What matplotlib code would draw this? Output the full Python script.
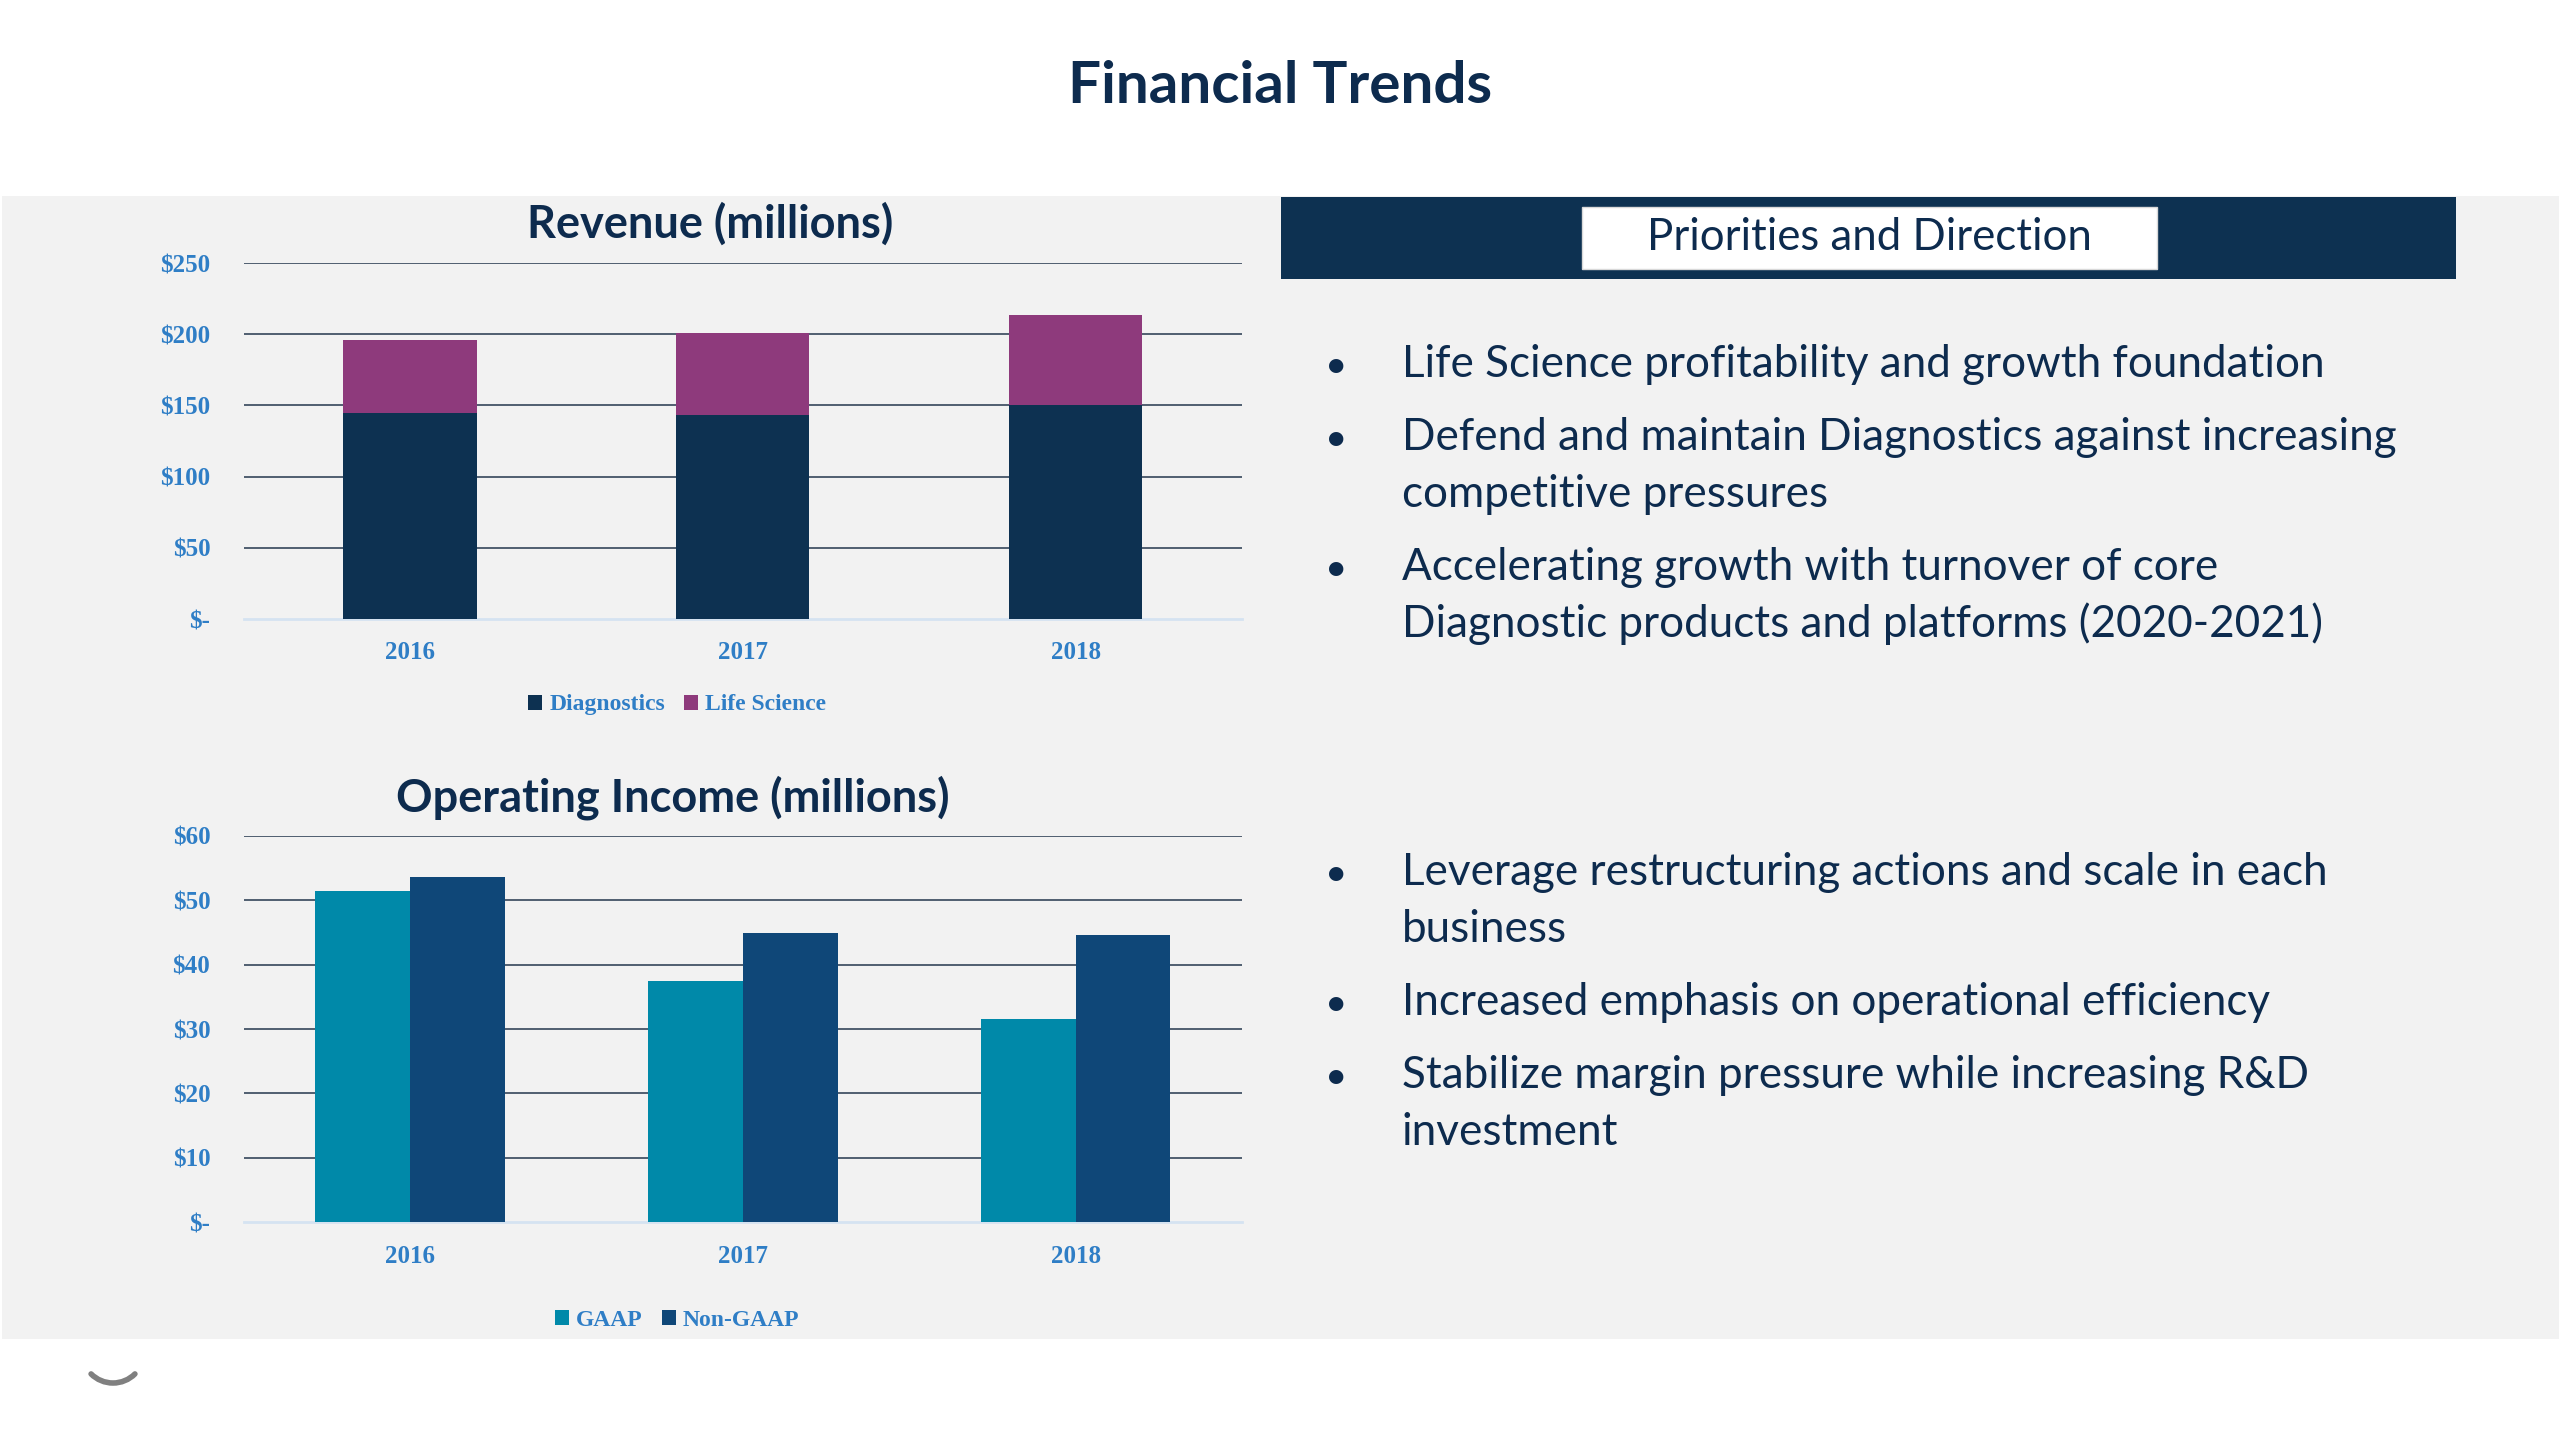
import matplotlib
matplotlib.use('Agg')
import matplotlib.pyplot as plt
from matplotlib.patches import Rectangle, Arc
from matplotlib.ticker import FuncFormatter, MultipleLocator
import numpy as np

# ---------------- data ----------------
years = ['2016', '2017', '2018']
diagnostics = [145.0, 143.5, 150.5]
life_science = [51.0, 57.5, 63.0]
gaap = [51.4, 37.4, 31.6]
non_gaap = [53.6, 44.9, 44.6]

rev_series = ['Diagnostics', 'Life Science']
op_series = ['GAAP', 'Non-GAAP']

main_title = 'Financial Trends'
rev_title = 'Revenue (millions)'
op_title = 'Operating Income (millions)'
panel_header = 'Priorities and Direction'
bullets_top = [
    ['Life Science profitability and growth foundation'],
    ['Defend and maintain Diagnostics against increasing', 'competitive pressures'],
    ['Accelerating growth with turnover of core', 'Diagnostic products and platforms (2020-2021)'],
]
bullets_bottom = [
    ['Leverage restructuring actions and scale in each', 'business'],
    ['Increased emphasis on operational efficiency'],
    ['Stabilize margin pressure while increasing R&D', 'investment'],
]

# ---------------- style ----------------
NAVY = '#0D3151'
PURPLE = '#8E3A7C'
TEAL = '#0089A9'
BLUE2 = '#0F4778'
TICK = '#2F7EC6'
GRID = '#435366'
BASE = '#D5E3F1'
BG = '#F2F2F2'
TEXT = '#0D2B4E'
FONT_TXT = ['Lato', 'DejaVu Sans']
FONT_NUM = ['Liberation Serif', 'DejaVu Serif']

W, H = 2559, 1440
fig = plt.figure(figsize=(W / 100, H / 100), dpi=100)
fig.patch.set_facecolor('white')

bg = fig.add_axes([0, 0, 1, 1], zorder=0)
bg.set_xlim(0, W)
bg.set_ylim(H, 0)
bg.axis('off')

bg.add_patch(Rectangle((2, 196), W - 2, 1143, color=BG, lw=0))
bg.add_patch(Rectangle((1281, 197), 1175, 82, color=NAVY, lw=0))
bg.add_patch(Rectangle((1582, 207), 575, 62, facecolor='white', edgecolor='#D9D9D9', lw=1))
bg.add_patch(Arc((113, 1352), 62, 62, theta1=45, theta2=135, color='#808080', lw=4, capstyle='round'))

bg.text(1280, 103, main_title, ha='center', va='baseline', fontsize=42,
        fontweight='bold', color=TEXT, family=FONT_TXT)
bg.text(1869, 250, panel_header, ha='center', va='baseline', fontsize=31.5,
        color=TEXT, family=FONT_TXT)
bg.text(710, 238, rev_title, ha='center', va='baseline', fontsize=32.5,
        fontweight='bold', color=TEXT, family=FONT_TXT)
bg.text(673, 811, op_title, ha='center', va='baseline', fontsize=32.5,
        fontweight='bold', color=TEXT, family=FONT_TXT)


def draw_bullets(items, y0):
    y = y0
    for item in items:
        for i, line in enumerate(item):
            if i == 0:
                bg.text(1336, y, '\u2022', ha='center', va='baseline', fontsize=28,
                        color=TEXT, family=FONT_TXT)
            bg.text(1402, y, line, ha='left', va='baseline', fontsize=31.7,
                    color=TEXT, family=FONT_TXT)
            y += 57.5
        y += 15


draw_bullets(bullets_top, 377)
draw_bullets(bullets_bottom, 885)


def px_axes(l, t, r, b):
    ax = fig.add_axes([l / W, 1 - b / H, (r - l) / W, (b - t) / H], zorder=2)
    ax.set_facecolor('none')
    return ax


def style_axis(ax, ymax, step):
    ax.set_xlim(-0.5, len(years) - 0.5)
    ax.set_ylim(0, ymax)
    ax.yaxis.set_major_locator(MultipleLocator(step))
    ax.yaxis.set_major_formatter(FuncFormatter(lambda v, p: '$-' if v == 0 else f'${v:.0f}'))
    ax.set_xticks(range(len(years)))
    ax.set_xticklabels(years)
    for s in ['top', 'right', 'left']:
        ax.spines[s].set_visible(False)
    ax.spines['bottom'].set_color(BASE)
    ax.spines['bottom'].set_linewidth(2)
    ax.tick_params(axis='both', length=0, labelsize=18, labelcolor=TICK)
    ax.tick_params(axis='y', pad=24)
    ax.tick_params(axis='x', pad=16)
    for lab in ax.get_xticklabels() + ax.get_yticklabels():
        lab.set_family(FONT_NUM)
        lab.set_fontweight('bold')
    ax.set_axisbelow(True)
    for v in np.arange(step, ymax + step / 2, step):
        ax.axhline(v, color=GRID, lw=1.3, zorder=0)


x = np.arange(len(years))

ax1 = px_axes(243.6, 263, 1242, 619)
b1 = ax1.bar(x, diagnostics, 0.4, color=NAVY, zorder=3)
b2 = ax1.bar(x, life_science, 0.4, bottom=diagnostics, color=PURPLE, zorder=3)
style_axis(ax1, 250, 50)

ax2 = px_axes(243.6, 835.6, 1242, 1222.4)
bw = 0.285
c1 = ax2.bar(x - bw / 2, gaap, bw, color=TEAL, zorder=3)
c2 = ax2.bar(x + bw / 2, non_gaap, bw, color=BLUE2, zorder=3)
style_axis(ax2, 60, 10)

leg_kw = dict(loc='center', ncol=2, frameon=False, bbox_transform=fig.transFigure,
              handlelength=0.6, handleheight=0.6, handletextpad=0.3, columnspacing=0.8,
              prop={'family': FONT_NUM, 'size': 17, 'weight': 'bold'}, labelcolor=TICK)
ax1.legend([b1, b2], rev_series, bbox_to_anchor=(677 / W, 1 - 705 / H), **leg_kw)
ax2.legend([c1, c2], op_series, bbox_to_anchor=(677 / W, 1 - 1320 / H), **leg_kw)

fig.savefig('out.png', dpi=100, facecolor='white')
